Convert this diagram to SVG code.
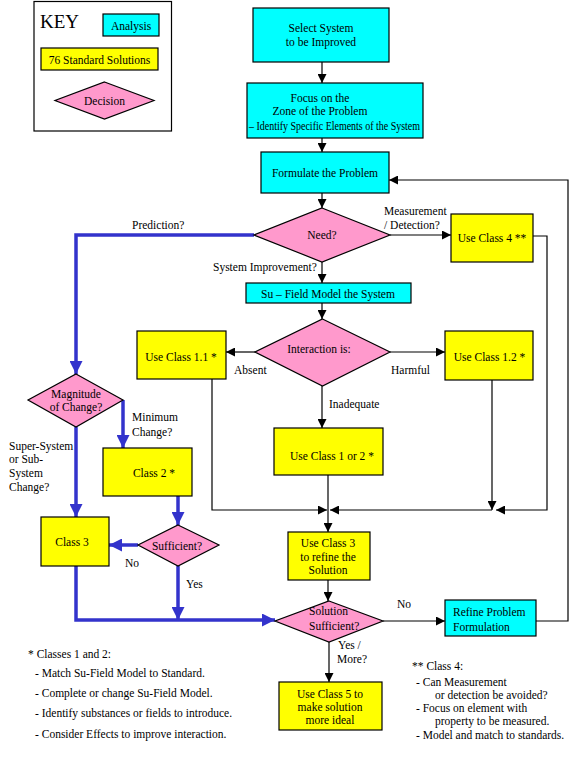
<svg xmlns="http://www.w3.org/2000/svg" width="576" height="766" viewBox="0 0 576 766">
<style>
text{font-family:"Liberation Serif","Times New Roman",serif;font-size:11.5px;fill:#000}
.m{text-anchor:middle}
.cy{fill:#00FFFF;stroke:#000;stroke-width:1.2}
.ye{fill:#FFFF00;stroke:#000;stroke-width:1.2}
.pk{fill:#FF99CC;stroke:#000;stroke-width:1.2}
.k{fill:none;stroke:#000;stroke-width:1.2}
.b{fill:none;stroke:#3333CC;stroke-width:3.5}
.ka{marker-end:url(#ah)}
.ba{marker-end:url(#bh)}
</style>
<defs>
<marker id="ah" markerUnits="userSpaceOnUse" markerWidth="9" markerHeight="9" viewBox="0 0 9 9" refX="9" refY="4.5" orient="auto"><path d="M0,0 L9,4.5 L0,9 z" fill="#000"/></marker>
<marker id="bh" markerUnits="userSpaceOnUse" markerWidth="13" markerHeight="13" viewBox="0 0 13 13" refX="13" refY="6.5" orient="auto"><path d="M0,0 L13,6.5 L0,13 z" fill="#3333CC"/></marker>
</defs>
<rect width="576" height="766" fill="#fff"/>

<g id="key">
<rect x="34" y="1.5" width="137.5" height="129.5" fill="#fff" stroke="#000" stroke-width="1.2"/>
<text x="40" y="28" style="font-size:19px">KEY</text>
<rect class="cy" x="103" y="14" width="56" height="22"/>
<text class="m" x="131" y="30">Analysis</text>
<rect class="ye" x="41" y="48" width="117" height="22"/>
<text class="m" x="99.5" y="64">76 Standard Solutions</text>
<polygon class="pk" points="104.5,82 154,100.5 104.5,119 55,100.5"/>
<text class="m" x="104.5" y="105">Decision</text>
</g>

<g id="connectors">
<path class="k ka" d="M322,62 V83"/>
<path class="k ka" d="M322,138 V152"/>
<path class="k ka" d="M322,193 V208"/>
<path class="k ka" d="M390,235 H451"/>
<path class="k ka" d="M322,262 V283"/>
<path class="k ka" d="M322,303 V319"/>
<path class="k ka" d="M255,352 H226"/>
<path class="k ka" d="M390,352 H445"/>
<path class="k ka" d="M322,386 V428"/>
<path class="k ka" d="M212,379 V510 H327"/>
<path class="k ka" d="M533,236 H547 V510 H496"/>
<path class="k ka" d="M492,380 V510"/>
<path class="k ka" d="M492,510 H330"/>
<path class="k ka" d="M328,475 V532"/>
<path class="k ka" d="M328,580 V601"/>
<path class="k ka" d="M383,621 H445"/>
<path class="k ka" d="M329,642 V682"/>
<path class="k ka" d="M536,621 H568 V180 H389"/>
<path class="b ba" d="M254,235 H76 V374"/>
<path class="b ba" d="M123,400 V448"/>
<path class="b ba" d="M76,427 V517"/>
<path class="b ba" d="M178,496 V525"/>
<path class="b ba" d="M138,545 H109"/>
<path class="b ba" d="M178,566 V620"/>
<path class="b ba" d="M76,566 V620 H275"/>
</g>

<g id="select">
<rect class="cy" x="253" y="8" width="136" height="54"/>
<text class="m" x="321" y="32">Select System</text>
<text class="m" x="321" y="46">to be Improved</text>
</g>
<g id="focus">
<rect class="cy" x="247" y="83" width="176" height="55"/>
<text class="m" x="320" y="102">Focus on the</text>
<text class="m" x="320" y="115">Zone of the Problem</text>
<text x="249" y="130" textLength="171" lengthAdjust="spacingAndGlyphs">– Identify Specific Elements of the System</text>
</g>
<g id="formulate">
<rect class="cy" x="261" y="152" width="128" height="41"/>
<text class="m" x="325" y="177">Formulate the Problem</text>
</g>
<g id="need">
<polygon class="pk" points="322,208 390,235 322,262 254,235"/>
<text class="m" x="322" y="239">Need?</text>
</g>
<g id="class4">
<rect class="ye" x="451" y="214" width="82" height="48"/>
<text class="m" x="492" y="242">Use Class 4 **</text>
</g>
<g id="sufield">
<rect class="cy" x="246" y="283" width="165" height="20"/>
<text class="m" x="328" y="298">Su – Field Model the System</text>
</g>
<g id="interaction">
<polygon class="pk" points="322.5,319 390,352 322.5,386 255,352"/>
<text class="m" x="319" y="353">Interaction is:</text>
</g>
<g id="class11">
<rect class="ye" x="137" y="331" width="89" height="48"/>
<text class="m" x="181" y="361">Use Class 1.1  *</text>
</g>
<g id="class12">
<rect class="ye" x="445" y="331" width="88" height="49"/>
<text class="m" x="489.5" y="361">Use Class 1.2  *</text>
</g>
<g id="class1or2">
<rect class="ye" x="274" y="428" width="109" height="47"/>
<text class="m" x="332" y="460">Use Class 1 or 2  *</text>
</g>
<g id="usec3">
<rect class="ye" x="288" y="532" width="82" height="48"/>
<text class="m" x="328" y="547">Use Class 3</text>
<text class="m" x="328" y="561">to refine the</text>
<text class="m" x="328" y="574">Solution</text>
</g>
<g id="solsuff">
<polygon class="pk" points="329,601 383,621 329,642 275,621"/>
<text x="309" y="615">Solution</text>
<text x="309" y="630">Sufficient?</text>
</g>
<g id="refine">
<rect class="cy" x="445" y="600" width="91" height="36"/>
<text x="453" y="616">Refine Problem</text>
<text x="453" y="631">Formulation</text>
</g>
<g id="class5">
<rect class="ye" x="279" y="682" width="103" height="48"/>
<text class="m" x="330" y="698">Use Class 5 to</text>
<text class="m" x="330" y="711">make solution</text>
<text class="m" x="330" y="724">more ideal</text>
</g>
<g id="magnitude">
<polygon class="pk" points="76,374 123,400 76,427 28,400"/>
<text class="m" x="76" y="398">Magnitude</text>
<text class="m" x="76" y="411">of Change?</text>
</g>
<g id="class2">
<rect class="ye" x="103" y="448" width="89" height="48"/>
<text class="m" x="154" y="477">Class 2  *</text>
</g>
<g id="class3">
<rect class="ye" x="41" y="517" width="68" height="49"/>
<text class="m" x="72" y="546">Class 3</text>
</g>
<g id="sufficient">
<polygon class="pk" points="178,525 219,545 178,566 138,545"/>
<text class="m" x="177" y="550">Sufficient?</text>
</g>

<g id="labels">
<text x="384" y="215">Measurement</text>
<text x="384" y="229">/ Detection?</text>
<text x="213" y="271">System Improvement?</text>
<text x="132" y="229">Prediction?</text>
<text x="234" y="374">Absent</text>
<text x="391" y="374">Harmful</text>
<text x="329" y="408">Inadequate</text>
<text x="132" y="421">Minimum</text>
<text x="132" y="436">Change?</text>
<text x="9" y="450">Super-System</text>
<text x="9" y="463">or Sub-</text>
<text x="9" y="477">System</text>
<text x="9" y="491">Change?</text>
<text x="125" y="567">No</text>
<text x="186" y="588">Yes</text>
<text x="397" y="608">No</text>
<text x="338" y="649">Yes /</text>
<text x="337" y="663">More?</text>
</g>

<g id="notes">
<text x="28" y="658">* Classes 1 and 2:</text>
<text x="35" y="677">-  Match Su-Field Model to Standard.</text>
<text x="35" y="697">-  Complete or change Su-Field Model.</text>
<text x="35" y="717">-  Identify substances or fields to introduce.</text>
<text x="35" y="738">-  Consider Effects to improve interaction.</text>
<text x="412" y="670">**  Class 4:</text>
<text x="416" y="686">-  Can Measurement</text>
<text x="435" y="699">or detection be avoided?</text>
<text x="416" y="712">-  Focus on element with</text>
<text x="435" y="725">property  to be measured.</text>
<text x="416" y="739">-  Model and match to standards.</text>
</g>
</svg>
